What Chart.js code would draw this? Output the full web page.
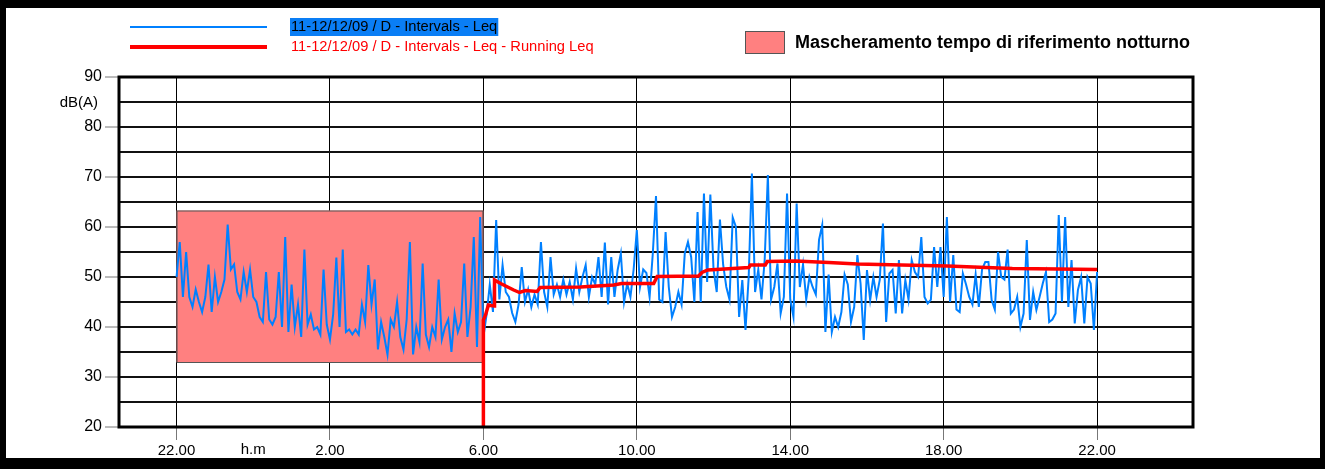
<!DOCTYPE html>
<html>
<head>
<meta charset="utf-8">
<script src="https://cdn.jsdelivr.net/npm/chart.js@4.4.1/dist/chart.umd.min.js"></script>
<style>
  html, body { margin: 0; padding: 0; background: #fff; }
</style>
</head>
<body>
<canvas id="leqChart" width="1325" height="469"></canvas>
<script>
// Leq a intervalli di 5 minuti, dalle 22.00 dell'11/12 alle 22.00 del 12/12
const intervalMin = 5;
const blueLeq = [
  50, 57, 46, 55, 46, 44, 47.5, 45, 43, 46,
  52.5, 43, 50, 45, 47, 49.5, 60.5, 51.5, 52.5, 47,
  45.5, 51, 47, 51.5, 46, 45, 42, 41, 51, 41.5,
  40.5, 42, 51, 40, 58, 39, 48.5, 40, 44.5, 38,
  55.5, 40.5, 42.5, 39.5, 40, 38.5, 51.5, 40.5, 37.5,
  42.5, 53.9, 40, 55.5, 39, 39.5, 38.5, 39.5, 38.5, 44.5,
  41, 52.4, 44.5, 49.5, 35.5, 41, 38, 34.5, 41.5, 40,
  45, 38, 35.5, 41.5, 57, 34.5, 40, 37, 52.7, 38.5,
  36, 40, 38, 49.5, 37.5, 40, 41.5, 35, 42.7, 39,
  41, 52.7, 38, 44, 58, 36, 62,
  38, 42.5, 48.5, 43, 61.4, 45.5, 52.4, 47, 46, 42.8,
  41, 44.5, 52, 45, 47.5, 44, 46.5, 44.5, 57, 47,
  44, 54, 46.5, 48.5, 46, 49.5, 46.5, 49, 45.5, 51.7,
  47, 50, 52.4, 46, 50, 48.5, 54, 46, 56.9, 44.5,
  54, 46, 51.4, 54.7, 45, 48.7, 46, 51.5, 59.4, 48,
  51.5, 50.8, 46, 54.7, 66.2, 45.5, 45, 59, 48, 42,
  44, 47, 44.5, 54.7, 57, 54, 45, 63, 45, 66.7,
  49, 66.5, 51.5, 47, 61.5, 52.5, 48, 45.5, 61.9, 60,
  42, 49.4, 39.4, 50, 70.7, 47, 51.5, 45.5, 53.4, 70.4,
  45.5, 48, 52.7, 42.7, 46, 66.7, 45.5, 42,
  64.7, 48, 52.5, 45.5, 50, 48, 46.5, 57.4, 60.4, 39,
  50.5, 39, 42, 40, 43, 50.5, 48.5, 41, 44, 54.4,
  48.7, 37.4, 51.4, 45.4, 50, 46, 49.4, 60.7, 41, 50.7,
  51.4, 42.7, 53.4, 42.7, 49.4, 45.5, 53.4, 51, 50, 58,
  46, 44.7, 45.5, 56, 48, 56, 46,
  62, 45, 54.4, 43.5, 43, 50.7, 48.5, 46, 44.5, 50.5,
  44, 51.5, 53, 53, 45.4, 43.5, 55, 50, 49.5, 55.5,
  42.7, 43.5, 46, 40, 42.7, 57.4, 41.4, 47, 43.4, 46,
  48.7, 51, 41, 41.5, 42.7, 62.4, 45, 62, 44, 53.4,
  40.7, 47.4, 50, 40.7, 50, 48.7, 39.4, 51
];

// Running Leq (ore dalle 22.00)
const runTimes = [8, 8, 8.06, 8.13, 8.28, 8.29, 8.45, 8.79, 8.94, 9.1, 9.4, 9.48,
  10.53, 11.4, 11.6, 12.44, 12.53, 13.61, 13.7, 13.85, 14.5, 14.92, 14.96,
  15.35, 15.4, 16.14, 17, 17.75, 18.9, 20.1, 21.79, 23, 24];
const runLeq = [20, 41.4, 42.5, 44.4, 44.2, 49.4, 48.7, 47.4, 46.9, 47.3, 47.1, 47.9,
  48, 48.4, 48.7, 48.7, 50.1, 50.2, 50.9, 51.4, 51.7, 51.9, 52.4,
  52.4, 53.1, 53.2, 52.9, 52.6, 52.4, 52.2, 51.7, 51.6, 51.5];

const xTicks = [0, 4, 8, 12, 16, 20, 24];
const xTickLabels = ["22.00", "2.00", "6.00", "10.00", "14.00", "18.00", "22.00"];

// mascheramento notturno 22.00 - 6.00
const maskFrom = 0, maskTo = 8, maskLow = 33, maskHigh = 63.3;

const BLUE = "rgb(0,128,255)";
const RED = "rgb(255,0,0)";
const FONT = "'Liberation Sans', Arial, sans-serif";

const decor = {
  id: "decor",
  beforeDraw(chart) {
    const c = chart.ctx;
    c.save();
    c.fillStyle = "#fff";
    c.fillRect(0, 0, chart.width, chart.height);
    c.restore();
  },
  beforeDatasetsDraw(chart) {
    const c = chart.ctx, x = chart.scales.x, y = chart.scales.y;
    const l = x.getPixelForValue(maskFrom), r = x.getPixelForValue(maskTo);
    const t = y.getPixelForValue(maskHigh), b = y.getPixelForValue(maskLow);
    c.save();
    c.fillStyle = "#FF8080";
    c.fillRect(l, t, r - l, b - t);
    c.strokeStyle = "#555";
    c.lineWidth = 1;
    c.strokeRect(l + 0.5, t + 0.5, r - l - 1, b - t);
    c.restore();
  },
  afterDatasetsDraw(chart) {
    const c = chart.ctx, a = chart.chartArea;
    const x = chart.scales.x, y = chart.scales.y;
    c.save();
    // cornice del grafico
    c.strokeStyle = "#000";
    c.lineWidth = 3;
    c.strokeRect(a.left, a.top, a.right - a.left, a.bottom - a.top);

    // cornice esterna
    c.fillStyle = "#000";
    c.fillRect(0, 0, chart.width, 8);
    c.fillRect(0, 0, 6, chart.height);
    c.fillRect(chart.width - 5, 0, 5, chart.height);
    c.fillRect(0, 458, chart.width, chart.height - 458);

    // etichette assi
    c.font = "15px " + FONT;
    c.fillStyle = "#000";
    c.textBaseline = "middle";
    c.textAlign = "right";
    c.fillText("dB(A)", 98, y.getPixelForValue(85) + 1);
    c.textAlign = "center";
    c.fillText("h.m", x.getPixelForValue(2), 450);

    // legenda
    const ds = chart.data.datasets;
    c.lineCap = "butt";
    c.strokeStyle = BLUE;
    c.lineWidth = 2;
    c.beginPath(); c.moveTo(130, 27); c.lineTo(267, 27); c.stroke();
    c.strokeStyle = RED;
    c.lineWidth = 4;
    c.beginPath(); c.moveTo(130, 47); c.lineTo(267, 47); c.stroke();

    c.font = "14.7px " + FONT;
    c.textAlign = "left";
    const w0 = c.measureText(ds[0].label).width;
    c.fillStyle = "#0A7EF5";
    c.fillRect(290, 18, w0 + 2, 18);
    c.fillStyle = "#000";
    c.fillText(ds[0].label, 291, 27);
    c.fillStyle = RED;
    c.fillText(ds[1].label, 291, 47);

    c.fillStyle = "#FF8080";
    c.fillRect(745, 31, 40, 23);
    c.strokeStyle = "#555";
    c.lineWidth = 1;
    c.strokeRect(745.5, 31.5, 39, 22);
    c.font = "bold 18px " + FONT;
    c.fillStyle = "#000";
    c.fillText("Mascheramento tempo di riferimento notturno", 795, 43);
    c.restore();
  }
};

new Chart(document.getElementById("leqChart"), {
  type: "line",
  data: {
    datasets: [
      {
        label: "11-12/12/09 / D - Intervals - Leq",
        data: blueLeq.map((v, i) => ({ x: i * intervalMin / 60, y: v })),
        borderColor: BLUE,
        borderWidth: 2,
        pointRadius: 0,
        tension: 0,
        order: 1
      },
      {
        label: "11-12/12/09 / D - Intervals - Leq - Running Leq",
        data: runTimes.map((t, i) => ({ x: t, y: runLeq[i] })),
        borderColor: RED,
        borderWidth: 3.5,
        pointRadius: 0,
        tension: 0,
        order: 0
      }
    ]
  },
  options: {
    responsive: false,
    animation: false,
    layout: { padding: { top: 77, right: 132, left: 0, bottom: 0 } },
    plugins: { legend: { display: false }, tooltip: { enabled: false } },
    scales: {
      x: {
        type: "linear",
        min: -1.5,
        max: 26.5,
        afterBuildTicks: (axis) => { axis.ticks = xTicks.map(v => ({ value: v })); },
        afterFit: (axis) => { axis.height = 42; },
        ticks: {
          autoSkip: false,
          maxRotation: 0,
          padding: 2,
          color: "#000",
          font: { family: FONT, size: 15 },
          callback: (v) => xTickLabels[xTicks.indexOf(v)]
        },
        grid: { color: "#000", lineWidth: 1, tickLength: 13, tickColor: "#777", tickWidth: 1 },
        border: { display: false }
      },
      y: {
        min: 20,
        max: 90,
        afterFit: (axis) => { axis.width = 119; },
        ticks: {
          stepSize: 5,
          padding: 3,
          color: "#000",
          font: { family: FONT, size: 16 },
          callback: (v) => (v % 10 === 0 ? v : "")
        },
        grid: {
          color: "#111",
          lineWidth: 2,
          tickLength: 14,
          tickWidth: 1,
          tickColor: (ctx) => (ctx.tick && ctx.tick.value % 10 === 0 ? "#777" : "rgba(0,0,0,0)")
        },
        border: { display: false }
      }
    }
  },
  plugins: [decor]
});
</script>
</body>
</html>
